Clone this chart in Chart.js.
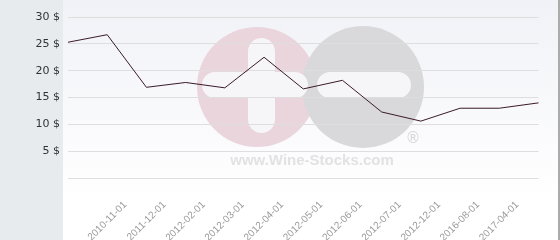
<!DOCTYPE html>
<html>
<head>
<meta charset="utf-8">
<script src="https://cdn.jsdelivr.net/npm/chart.js@4/dist/chart.umd.min.js"></script>
<style>
	html, body { margin: 0; padding: 0; background: #ffffff; }
	canvas { display: block; }
</style>
</head>
<body>
<canvas id="price_chart" width="560" height="240"></canvas>
<script>
// dates under the axis (first and last point carry no label)
const dates = ['', '2010-11-01', '2011-12-01', '2012-02-01', '2012-03-01', '2012-04-01', '2012-05-01',
	'2012-06-01', '2012-07-01', '2012-12-01', '2016-08-01', '2017-04-01', '']
// price in $
const prices = [25.3, 26.7, 16.9, 17.8, 16.8, 22.5, 16.6, 18.2, 12.3, 10.6, 13.0, 13.0, 14.0]
const yTickValues = [0, 5, 10, 15, 20, 25, 30]

// panel backgrounds + watermark logo, under the grid
const backdrop = {
	id: 'backdrop',
	beforeDraw(chart) {
		const c = chart.ctx
		c.save()
		c.fillStyle = '#e7ebee'
		c.fillRect(0, 0, 63, 240)
		const g = c.createLinearGradient(0, 0, 0, 200)
		g.addColorStop(0, '#f1f2f7')
		g.addColorStop(1, '#ffffff')
		c.fillStyle = g
		c.fillRect(63, 0, 495, 240)
		c.fillStyle = '#ababab'
		c.fillRect(558, 0, 2, 240)

		// logo
		c.fillStyle = '#ead5dc'
		c.beginPath(); c.arc(257, 87, 60, 0, Math.PI * 2); c.fill()
		c.fillStyle = '#d9d9db'
		c.beginPath(); c.arc(363, 87, 61, 0, Math.PI * 2); c.fill()
		c.fillStyle = '#f6f6f9'
		c.beginPath(); c.roundRect(248, 38, 27, 95, 13.5); c.fill()
		c.beginPath(); c.roundRect(202, 72, 106, 26, 13); c.fill()
		c.beginPath(); c.roundRect(317, 72, 94, 26, 13); c.fill()
		c.fillStyle = '#d6d6d6'
		c.font = '15px "DejaVu Sans"'
		c.textAlign = 'center'
		c.textBaseline = 'middle'
		c.fillText('®', 413, 139)
		c.fillStyle = '#e2e2e2'
		c.font = 'bold 15px "Liberation Sans"'
		c.fillText('www.Wine-Stocks.com', 312, 161)
		c.restore()
	}
}

const ctx = document.getElementById('price_chart').getContext('2d')
const price_chart = new Chart(ctx, {
	type: 'line',
	data: {
		labels: dates,
		datasets: [{
			data: prices,
			borderColor: '#3a1a2a',
			borderWidth: 1,
			pointRadius: 0,
			tension: 0,
			fill: false
		}]
	},
	options: {
		responsive: false,
		animation: false,
		layout: { padding: { top: 17, right: 6, left: 0, bottom: 0 } },
		plugins: {
			legend: { display: false },
			tooltip: { enabled: false }
		},
		scales: {
			x: {
				offset: false,
				grid: { display: false },
				border: { display: false },
				ticks: {
					autoSkip: false,
					minRotation: 45,
					maxRotation: 45,
					labelOffset: 18,
					padding: 13,
					color: '#9a9a9a',
					font: { family: 'Liberation Sans', size: 10 }
				},
				afterFit: s => { s.height = 62 }
			},
			y: {
				min: 0,
				max: 30,
				border: { display: false },
				grid: { color: '#dedede', drawTicks: false },
				afterBuildTicks: s => { s.ticks = yTickValues.map(v => ({ value: v })) },
				ticks: {
					padding: 8,
					color: '#333333',
					font: { family: 'DejaVu Sans', size: 11 },
					callback: v => v === 0 ? '' : v + ' $'
				},
				afterFit: s => { s.width = 68 }
			}
		}
	},
	plugins: [backdrop]
})
</script>
</body>
</html>
